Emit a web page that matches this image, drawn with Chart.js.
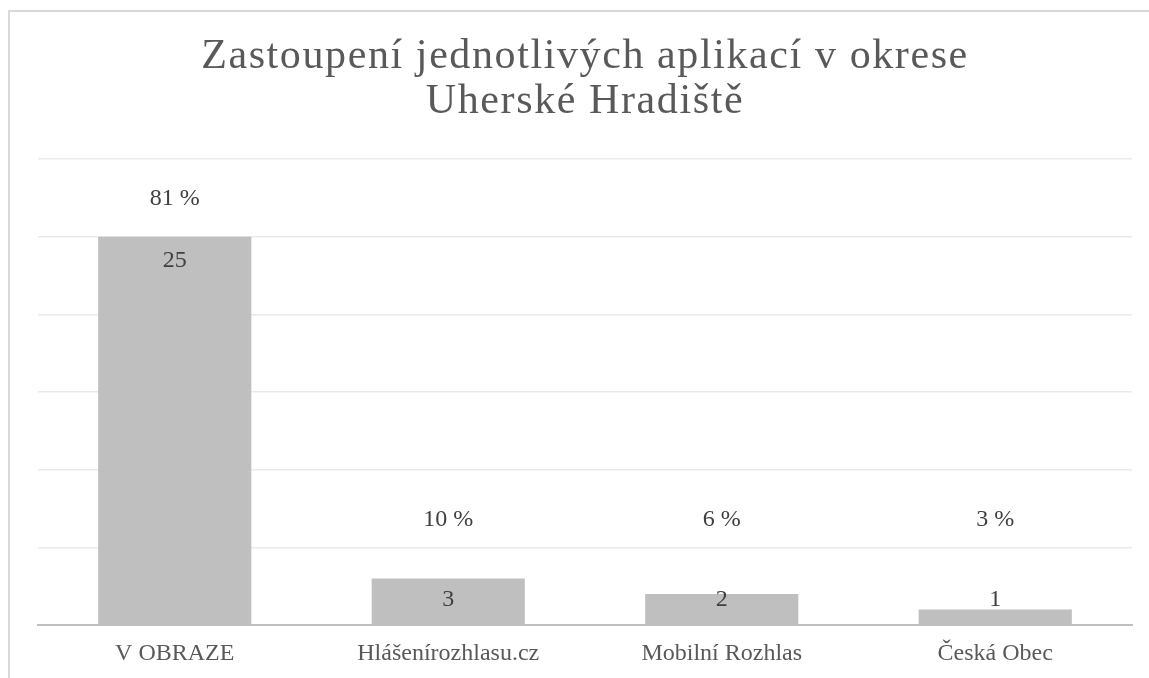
<!DOCTYPE html>
<html>
<head>
<meta charset="utf-8">
<script src="https://cdn.jsdelivr.net/npm/chart.js"></script>
<style>
  html, body { margin: 0; padding: 0; background: #ffffff; }
  #wrap { width: 1149px; height: 678px; position: relative; }
</style>
</head>
<body>
<div id="wrap"><canvas id="c" width="1149" height="678"></canvas></div>
<script>
const titleLines = ["Zastoupení jednotlivých aplikací v okrese", "Uherské Hradiště"];
const categories = ["V OBRAZE", "Hlášenírozhlasu.cz", "Mobilní Rozhlas", "Česká Obec"];
const counts = [25, 3, 2, 1];
const percentLabels = ["81 %", "10 %", "6 %", "3 %"];
const yMax = 30;
const yStep = 5;

const FONT = "'Liberation Serif', 'Times New Roman', serif";

const framePlugin = {
  id: 'frame',
  beforeDraw(chart) {
    const ctx = chart.ctx;
    ctx.save();
    ctx.fillStyle = '#ffffff';
    ctx.fillRect(0, 0, chart.width, chart.height);
    ctx.strokeStyle = '#D9D9D9';
    ctx.lineWidth = 2;
    ctx.strokeRect(9, 11, 3000, 3000);
    ctx.restore();
  },
  afterDraw(chart) {
    const ctx = chart.ctx;
    const area = chart.chartArea;
    ctx.save();
    ctx.fillStyle = '#595959';
    ctx.font = "42px " + FONT;
    ctx.textAlign = 'center';
    ctx.textBaseline = 'alphabetic';
    try { ctx.letterSpacing = '1.6px'; } catch (e) {}
    const cx = (area.left + area.right) / 2;
    ctx.fillText(titleLines[0], cx, 68);
    ctx.fillText(titleLines[1], cx, 113);
    ctx.restore();
  }
};

const labelPlugin = {
  id: 'barLabels',
  afterDatasetsDraw(chart) {
    const ctx = chart.ctx;
    const meta = chart.getDatasetMeta(0);
    const ys = chart.scales.y;
    ctx.save();
    ctx.font = "24px " + FONT;
    ctx.fillStyle = '#404040';
    ctx.textAlign = 'center';
    ctx.textBaseline = 'middle';
    meta.data.forEach((bar, i) => {
      const top = bar.y;
      const pctY = Math.min(top - 38, ys.getPixelForValue(6.8));
      const valY = Math.min(top + 24, ys.getPixelForValue(1.6));
      ctx.fillText(percentLabels[i], bar.x, pctY);
      ctx.fillText(String(counts[i]), bar.x, valY);
    });
    ctx.restore();
  }
};

new Chart(document.getElementById('c'), {
  type: 'bar',
  data: {
    labels: categories,
    datasets: [{
      data: counts,
      backgroundColor: '#BFBFBF',
      borderWidth: 0,
      barPercentage: 0.56,
      categoryPercentage: 1.0
    }]
  },
  options: {
    responsive: false,
    animation: false,
    devicePixelRatio: 1,
    layout: { padding: { left: 38, right: 17, top: 159, bottom: 11 } },
    plugins: {
      legend: { display: false },
      title: { display: false },
      tooltip: { enabled: false }
    },
    scales: {
      x: {
        grid: { display: false, drawTicks: false },
        border: { display: true, color: '#BFBFBF', width: 2 },
        ticks: {
          color: '#595959',
          font: { family: FONT, size: 24 },
          padding: 14,
          maxRotation: 0,
          autoSkip: false
        },
        afterFit(scale) { scale.height = 42; }
      },
      y: {
        min: 0,
        max: yMax,
        grid: { color: '#EAEAEA', lineWidth: 1.5, drawTicks: false },
        border: { display: false },
        ticks: { display: false, stepSize: yStep }
      }
    }
  },
  plugins: [framePlugin, labelPlugin]
});
</script>
</body>
</html>
